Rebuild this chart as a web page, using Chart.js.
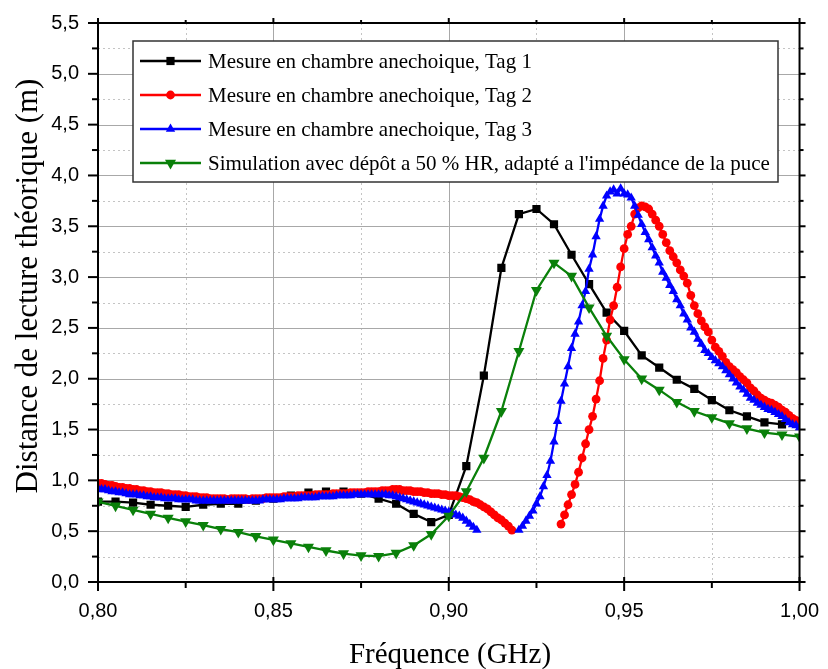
<!DOCTYPE html>
<html><head><meta charset="utf-8">
<script src="https://cdn.jsdelivr.net/npm/chart.js@4.4.0/dist/chart.umd.min.js"></script>
<style>html,body{margin:0;padding:0;background:#fff;}#wrap{width:828px;height:669px;}</style>
</head><body><div id="wrap"><canvas id="c" width="828" height="669"></canvas></div>
<script>
// ---- data ----
const seriesNames = [
  "Mesure en chambre anechoique, Tag 1",
  "Mesure en chambre anechoique, Tag 2",
  "Mesure en chambre anechoique, Tag 3",
  "Simulation avec dépôt a 50 % HR, adapté a l'impédance de la puce"
];
const xTickValues = [0.80, 0.85, 0.90, 0.95, 1.00];
const yTickValues = [0, 0.5, 1.0, 1.5, 2.0, 2.5, 3.0, 3.5, 4.0, 4.5, 5.0, 5.5];

// Tag 1: 0.800 .. 0.995 GHz, every 0.005
const tag1Start = 0.800, tag1Step = 0.005;
const tag1Values = [
  0.79,0.79,0.78,0.76,0.75,0.74,0.76,0.77,0.77,0.80,
  0.82,0.85,0.88,0.89,0.89,0.87,0.82,0.77,0.67,0.59,
  0.66,1.14,2.03,3.09,3.62,3.67,3.52,3.22,2.93,2.65,
  2.47,2.23,2.11,1.99,1.90,1.79,1.69,1.63,1.57,1.55
];

// Tag 2: two measured segments, every 0.001 GHz
const tag2Start1 = 0.800, tag2Start2 = 0.932, tag2Step = 0.001;
const tag2Values1 = [
  0.97,0.97,0.96,0.95,0.95,0.94,0.93,0.93,0.92,0.92,
  0.91,0.91,0.90,0.90,0.89,0.89,0.88,0.88,0.88,0.87,
  0.87,0.86,0.86,0.86,0.85,0.85,0.84,0.84,0.84,0.83,
  0.83,0.83,0.82,0.82,0.82,0.82,0.82,0.81,0.82,0.82,
  0.82,0.82,0.82,0.81,0.82,0.82,0.82,0.82,0.83,0.83,
  0.83,0.83,0.83,0.84,0.84,0.84,0.84,0.85,0.85,0.85,
  0.85,0.85,0.86,0.86,0.86,0.86,0.86,0.87,0.87,0.87,
  0.87,0.87,0.88,0.88,0.88,0.88,0.88,0.89,0.89,0.89,
  0.89,0.90,0.90,0.90,0.91,0.91,0.91,0.90,0.90,0.90,
  0.89,0.89,0.89,0.88,0.88,0.87,0.87,0.87,0.86,0.86,
  0.85,0.85,0.85,0.84,0.83,0.82,0.81,0.79,0.78,0.76,
  0.74,0.72,0.69,0.66,0.63,0.61,0.58,0.55,0.51
];
const tag2Values2 = [
  0.57,0.66,0.76,0.86,0.96,1.08,1.22,1.36,1.50,1.63,
  1.80,1.98,2.20,2.38,2.58,2.72,2.90,3.10,3.28,3.42,
  3.50,3.62,3.68,3.70,3.69,3.67,3.62,3.56,3.50,3.42,
  3.34,3.26,3.20,3.14,3.07,3.01,2.94,2.82,2.72,2.64,
  2.57,2.51,2.46,2.38,2.31,2.27,2.22,2.16,2.12,2.09,
  2.06,2.02,1.99,1.96,1.91,1.88,1.84,1.81,1.79,1.77,
  1.76,1.74,1.72,1.69,1.67,1.64,1.61,1.59,1.56
];

// Tag 3: two measured segments, every 0.001 GHz
const tag3Start1 = 0.800, tag3Start2 = 0.920, tag3Step = 0.001;
const tag3Values1 = [
  0.92,0.91,0.91,0.90,0.89,0.89,0.88,0.88,0.87,0.86,
  0.86,0.86,0.85,0.85,0.84,0.84,0.83,0.83,0.83,0.82,
  0.82,0.82,0.82,0.81,0.81,0.81,0.81,0.81,0.80,0.80,
  0.80,0.80,0.80,0.80,0.80,0.80,0.80,0.80,0.80,0.80,
  0.80,0.80,0.80,0.80,0.80,0.80,0.80,0.81,0.81,0.81,
  0.81,0.81,0.81,0.82,0.82,0.82,0.82,0.82,0.83,0.83,
  0.83,0.83,0.83,0.84,0.84,0.84,0.84,0.84,0.85,0.85,
  0.85,0.85,0.85,0.86,0.86,0.86,0.86,0.86,0.86,0.86,
  0.86,0.86,0.86,0.85,0.85,0.84,0.83,0.82,0.81,0.80,
  0.79,0.78,0.77,0.76,0.75,0.74,0.73,0.72,0.71,0.70,
  0.69,0.68,0.66,0.65,0.63,0.60,0.57,0.54,0.51
];
const tag3Values2 = [
  0.51,0.55,0.60,0.65,0.70,0.77,0.84,0.94,1.05,1.19,
  1.38,1.58,1.78,1.95,2.12,2.30,2.44,2.56,2.72,2.86,
  3.08,3.22,3.40,3.57,3.70,3.80,3.84,3.86,3.82,3.87,
  3.82,3.81,3.78,3.70,3.61,3.52,3.44,3.37,3.29,3.21,
  3.14,3.05,2.99,2.92,2.86,2.78,2.72,2.64,2.58,2.50,
  2.46,2.39,2.34,2.28,2.25,2.21,2.18,2.15,2.12,2.08,
  2.04,2.00,1.96,1.92,1.89,1.85,1.81,1.79,1.76,1.74,
  1.72,1.70,1.69,1.67,1.65,1.63,1.60,1.57,1.55,1.54,
  1.52
];

// Simulation: 0.800 .. 1.000 GHz, every 0.005
const simStart = 0.800, simStep = 0.005;
const simValues = [
  0.79,0.75,0.71,0.67,0.63,0.595,0.56,0.52,0.49,0.45,
  0.415,0.38,0.345,0.31,0.28,0.26,0.255,0.285,0.36,0.47,
  0.65,0.89,1.22,1.68,2.27,2.87,3.14,3.01,2.70,2.42,
  2.19,2.00,1.89,1.77,1.68,1.62,1.56,1.51,1.47,1.45,
  1.43
];

// ---- build point lists ----
function toPoints(start, step, vals) {
  return vals.map((v, i) => ({ x: +(start + i * step).toFixed(4), y: v }));
}
function joinSegments(a, b) {
  const gapX = (a[a.length - 1].x + b[0].x) / 2;
  return a.concat([{ x: gapX, y: null }], b);
}
const tag1Pts = toPoints(tag1Start, tag1Step, tag1Values);
const tag2Pts = joinSegments(toPoints(tag2Start1, tag2Step, tag2Values1), toPoints(tag2Start2, tag2Step, tag2Values2));
const tag3Pts = joinSegments(toPoints(tag3Start1, tag3Step, tag3Values1), toPoints(tag3Start2, tag3Step, tag3Values2));
const simPts = toPoints(simStart, simStep, simValues);

const COL = ['#000000', '#ff0000', '#0000ff', '#0a800a'];
const datasets = [
  { label: seriesNames[0], data: tag1Pts, borderColor: COL[0], backgroundColor: COL[0], pointStyle: 'rect', pointRadius: 5.8, pointRotation: 0, borderWidth: 2.3, order: 4 },
  { label: seriesNames[1], data: tag2Pts, borderColor: COL[1], backgroundColor: COL[1], pointStyle: 'circle', pointRadius: 4.4, borderWidth: 2.3, order: 3 },
  { label: seriesNames[2], data: tag3Pts, borderColor: COL[2], backgroundColor: COL[2], pointStyle: 'triangle', pointRadius: 5.4, borderWidth: 2.3, order: 2 },
  { label: seriesNames[3], data: simPts, borderColor: COL[3], backgroundColor: COL[3], pointStyle: 'triangle', pointRotation: 180, pointRadius: 6.4, borderWidth: 2.3, order: 1 }
].map(d => Object.assign({ showLine: true, fill: false, tension: 0, spanGaps: false, pointBorderWidth: 0, pointHoverRadius: 0 }, d));

const fmt = (v, d) => v.toFixed(d).replace('.', ',');

const framePlugin = {
  id: 'frame',
  beforeDatasetsDraw(chart) {
    const { ctx, chartArea: a, scales: { x, y } } = chart;
    ctx.save();
    ctx.lineWidth = 1;
    ctx.strokeStyle = '#c4c4c4';
    ctx.setLineDash([2, 3]);
    for (let i = 0; i < xTickValues.length - 1; i++) {
      const px = Math.round(x.getPixelForValue((xTickValues[i] + xTickValues[i + 1]) / 2)) + 0.5;
      ctx.beginPath(); ctx.moveTo(px, a.top); ctx.lineTo(px, a.bottom); ctx.stroke();
    }
    for (let i = 0; i < yTickValues.length - 1; i++) {
      const py = Math.round(y.getPixelForValue((yTickValues[i] + yTickValues[i + 1]) / 2)) + 0.5;
      ctx.beginPath(); ctx.moveTo(a.left, py); ctx.lineTo(a.right, py); ctx.stroke();
    }
    ctx.setLineDash([]);
    ctx.strokeStyle = '#a8a8a8';
    xTickValues.slice(1, -1).forEach(v => {
      const px = Math.round(x.getPixelForValue(v)) + 0.5;
      ctx.beginPath(); ctx.moveTo(px, a.top); ctx.lineTo(px, a.bottom); ctx.stroke();
    });
    yTickValues.slice(1, -1).forEach(v => {
      const py = Math.round(y.getPixelForValue(v)) + 0.5;
      ctx.beginPath(); ctx.moveTo(a.left, py); ctx.lineTo(a.right, py); ctx.stroke();
    });
    ctx.restore();
  },
  afterDatasetsDraw(chart) {
    const { ctx, chartArea: a, scales: { x, y } } = chart;
    ctx.save();
    ctx.strokeStyle = '#000';
    ctx.lineWidth = 2;
    ctx.strokeRect(a.left, a.top, a.right - a.left, a.bottom - a.top);
    const tick = (x1, y1, x2, y2) => { ctx.beginPath(); ctx.moveTo(x1, y1); ctx.lineTo(x2, y2); ctx.stroke(); };
    xTickValues.forEach((v, i) => {
      const px = x.getPixelForValue(v);
      tick(px, a.bottom - 5, px, a.bottom + 9);
      tick(px, a.top, px, a.top - 5);
      if (i < xTickValues.length - 1) {
        const pm = x.getPixelForValue((v + xTickValues[i + 1]) / 2);
        tick(pm, a.bottom, pm, a.bottom + 6);
        tick(pm, a.top, pm, a.top - 3);
      }
    });
    yTickValues.forEach((v, i) => {
      const py = y.getPixelForValue(v);
      tick(a.left - 10, py, a.left, py);
      tick(a.right, py, a.right + 6, py);
      if (i < yTickValues.length - 1) {
        const pm = y.getPixelForValue((v + yTickValues[i + 1]) / 2);
        tick(a.left - 6, pm, a.left, pm);
        tick(a.right, pm, a.right + 4, pm);
      }
    });
    ctx.restore();
  },
  afterDraw(chart) {
    const { ctx } = chart;
    ctx.save();
    ctx.fillStyle = '#000';
    ctx.textAlign = 'center';
    ctx.textBaseline = 'middle';
    ctx.font = '29px "Liberation Serif", "Times New Roman", serif';
    ctx.fillText('Fréquence (GHz)', 450, 655);
    ctx.save();
    ctx.translate(29, 286);
    ctx.rotate(-Math.PI / 2);
    ctx.font = '31px "Liberation Serif", "Times New Roman", serif';
    ctx.fillText('Distance de lecture théorique (m)', 0, 0);
    ctx.restore();
    // legend box
    const bx = 133, by = 41, bw = 645, bh = 141;
    ctx.fillStyle = '#fff';
    ctx.fillRect(bx, by, bw, bh);
    ctx.strokeStyle = '#333';
    ctx.lineWidth = 1.5;
    ctx.strokeRect(bx, by, bw, bh);
    const rows = [61, 95, 129, 163];
    chart.data.datasets.forEach((ds, i) => {
      const ry = rows[i];
      ctx.strokeStyle = ds.borderColor;
      ctx.lineWidth = 2.5;
      ctx.beginPath(); ctx.moveTo(140, ry); ctx.lineTo(201, ry); ctx.stroke();
      ctx.fillStyle = ds.backgroundColor;
      Chart.helpers.drawPoint(ctx, { pointStyle: ds.pointStyle, radius: ds.pointRadius, rotation: ds.pointRotation || 0, borderWidth: 0 }, 170.5, ry);
      ctx.fillStyle = '#000';
      ctx.textAlign = 'left';
      ctx.textBaseline = 'middle';
      ctx.font = '21px "Liberation Serif", "Times New Roman", serif';
      ctx.fillText(ds.label, 208, ry + 1);
    });
    ctx.restore();
  }
};

new Chart(document.getElementById('c'), {
  type: 'line',
  data: { datasets },
  options: {
    responsive: false,
    animation: false,
    devicePixelRatio: 1,
    layout: { padding: { left: 0, right: 20, top: 10, bottom: 0 } },
    plugins: { legend: { display: false }, tooltip: { enabled: false } },
    elements: { line: { borderJoinStyle: 'round' } },
    scales: {
      x: {
        type: 'linear', min: 0.8, max: 1.0,
        afterBuildTicks: s => { s.ticks = xTickValues.map(v => ({ value: v })); },
        afterFit: s => { s.height = 87; },
        grid: { display: false }, border: { display: false },
        ticks: { color: '#000', padding: 9, maxRotation: 0, autoSkip: false,
          font: { family: '"Liberation Sans", Arial, sans-serif', size: 20 },
          callback: v => fmt(v, 2) }
      },
      y: {
        type: 'linear', min: 0, max: 5.5,
        afterBuildTicks: s => { s.ticks = yTickValues.map(v => ({ value: v })); },
        afterFit: s => { s.width = 98; },
        grid: { display: false }, border: { display: false },
        ticks: { color: '#000', padding: 11, autoSkip: false,
          font: { family: '"Liberation Sans", Arial, sans-serif', size: 20 },
          callback: v => fmt(v, 1) }
      }
    }
  },
  plugins: [framePlugin]
});
</script>
</body></html>
